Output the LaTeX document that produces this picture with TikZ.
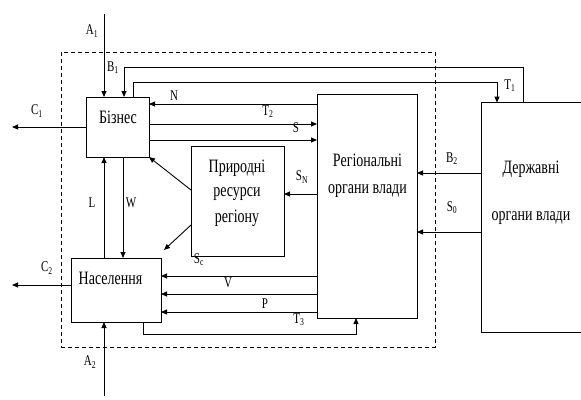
\documentclass[tikz,border=0pt]{standalone}
\usepackage{fontspec}
\setmainfont{Liberation Serif}
\usepackage{graphicx}
\usetikzlibrary{arrows.meta}
\newcommand\vst[1]{\scalebox{1}[1.35]{#1}}
\begin{document}
\begin{tikzpicture}[x=1pt,y=-1pt,line width=0.9pt,
  box/.style={draw,inner sep=0pt,outer sep=0pt},
  arr/.style={-{Triangle[length=6pt,width=5pt]}},
  txt/.style={font=\fontsize{14}{16}\selectfont,inner sep=0pt},
  lbl/.style={font=\fontsize{11}{13}\selectfont,inner sep=0pt}]
\useasboundingbox (0,0) rectangle (581,399);
% system boundary
\node[draw,dash pattern=on 4pt off 3pt,inner sep=0pt,minimum width=374pt,minimum height=295pt] (sys) at (248,199.5) {};
% boxes
\node[box,minimum width=63pt,minimum height=60pt] (biz) at (117.5,127) {};
\node[box,minimum width=90pt,minimum height=64pt] (nas) at (116,290) {};
\node[box,minimum width=100pt,minimum height=224pt] (reg) at (367,206) {};
\node[box,minimum width=93pt,minimum height=110pt] (pr) at (237.5,201) {};
\node[inner sep=0pt,minimum width=99pt,minimum height=229pt] (der) at (531.5,217.5) {};
\draw (der.north east) -- (der.north west) -- (der.south west) -- (der.south east);
% box texts
\node[txt] (tbiz) at (118,117) {\vst{Бізнес}};
\node[txt] (tnas) at (110.5,278) {\vst{Населення}};
\node[txt] (treg1) at (367.5,160) {\vst{Регіональні}};
\node[txt] (treg2) at (367.5,191) {\vst{органи влади}};
\node[txt] (tpr1) at (237,168) {\vst{Природні}};
\node[txt] (tpr2) at (237,194) {\vst{ресурси}};
\node[txt] (tpr3) at (237,218) {\vst{регіону}};
\node[txt] (tder1) at (531,169) {\vst{Державні}};
\node[txt] (tder2) at (531,218) {\vst{органи влади}};
% helper coordinates
\coordinate (a1) at (104,14);
\coordinate (a2) at (104,396);
\coordinate (c1) at (12,127);
\coordinate (c2) at (12,285);
\coordinate (b1r) at (523,67);
\coordinate (b1l) at (124,67);
\coordinate (t1l) at (133,82);
\coordinate (t1r) at (497,82);
\coordinate (yN) at (0,104);
\coordinate (yT2) at (0,124);
\coordinate (yS) at (0,140);
\coordinate (xL) at (104,0);
\coordinate (xW) at (123,0);
\coordinate (ySN) at (0,194);
\coordinate (yB2) at (0,173);
\coordinate (yS0) at (0,232);
\coordinate (yV) at (0,276);
\coordinate (yP) at (0,294);
\coordinate (yT3) at (0,312);
\coordinate (bl) at (143,334);
\coordinate (br) at (356,334);
\coordinate (d1) at (0,190);
\coordinate (d2) at (0,225);
\coordinate (d2e) at (164,250);
% connectors
\draw[arr] (a1) -- (a1 |- biz.north);
\draw[arr] (a2) -- (a2 |- nas.south);
\draw[arr] (c1 -| biz.west) -- (c1);
\draw[arr] (c2 -| nas.west) -- (c2);
\draw[arr] (b1r |- der.north) -- (b1r) -- (b1l) -- (b1l |- biz.north);
\draw[arr] (t1l |- biz.north) -- (t1l) -- (t1r) -- (t1r |- der.north);
\draw[arr] (reg.west |- yN) -- (biz.east |- yN);
\draw[arr] (biz.east |- yT2) -- (reg.west |- yT2);
\draw[arr] (biz.east |- yS) -- (reg.west |- yS);
\draw[arr] (nas.north -| xL) -- (biz.south -| xL);
\draw[arr] (biz.south -| xW) -- (nas.north -| xW);
\draw[arr] (reg.west |- ySN) -- (pr.east |- ySN);
\draw[arr] (der.west |- yB2) -- (reg.east |- yB2);
\draw[arr] (der.west |- yS0) -- (reg.east |- yS0);
\draw[arr] (reg.west |- yV) -- (nas.east |- yV);
\draw[arr] (reg.west |- yP) -- (nas.east |- yP);
\draw[arr] (reg.west |- yT3) -- (nas.east |- yT3);
\draw[arr] (bl |- nas.south) -- (bl) -- (br) -- (br |- reg.south);
\draw[arr] (pr.west |- d1) -- (biz.south east);
\draw[arr] (pr.west |- d2) -- (d2e);
% labels
\node[lbl] (lA1) at (92,31) {\vst{A\textsubscript{1}}};
\node[lbl] (lB1) at (113,68) {\vst{B\textsubscript{1}}};
\node[lbl] (lT1) at (510,86) {\vst{T\textsubscript{1}}};
\node[lbl] (lN) at (174,96) {\vst{N}};
\node[lbl] (lT2) at (268,112) {\vst{T\textsubscript{2}}};
\node[lbl] (lS) at (296,128) {\vst{S}};
\node[lbl] (lC1) at (37,111) {\vst{C\textsubscript{1}}};
\node[lbl] (lL) at (92,203) {\vst{L}};
\node[lbl] (lW) at (131,203) {\vst{W}};
\node[lbl] (lSN) at (302,177) {\vst{S\textsubscript{N}}};
\node[lbl] (lSc) at (199,260) {\vst{S\textsubscript{c}}};
\node[lbl] (lC2) at (47,268) {\vst{C\textsubscript{2}}};
\node[lbl] (lA2) at (90,362) {\vst{A\textsubscript{2}}};
\node[lbl] (lV) at (228,283) {\vst{V}};
\node[lbl] (lP) at (265,304) {\vst{P}};
\node[lbl] (lT3) at (299,320) {\vst{T\textsubscript{3}}};
\node[lbl] (lB2) at (452,159) {\vst{B\textsubscript{2}}};
\node[lbl] (lS0) at (452,208) {\vst{S\textsubscript{0}}};
\end{tikzpicture}
\end{document}
